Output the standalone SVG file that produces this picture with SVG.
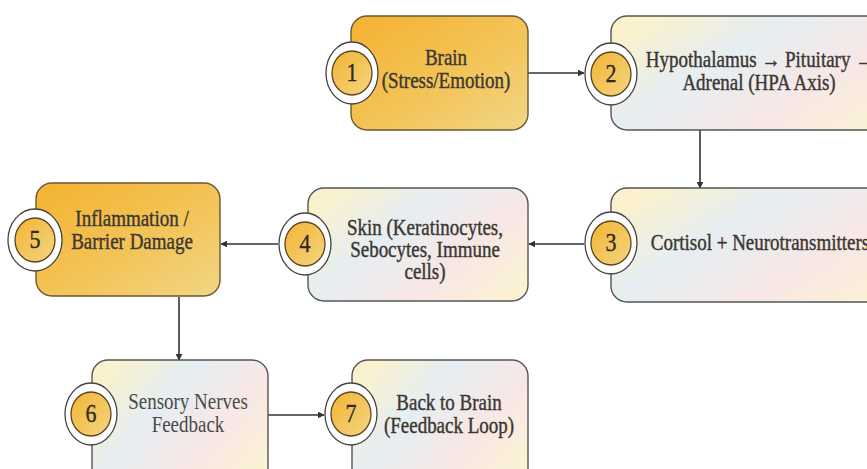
<svg xmlns="http://www.w3.org/2000/svg" width="867" height="469" viewBox="0 0 867 469">
<defs>
<linearGradient id="gOrange" x1="0" y1="0" x2="1" y2="1">
<stop offset="0" stop-color="#F5B230"/>
<stop offset="0.55" stop-color="#F3C458"/>
<stop offset="1" stop-color="#F1D684"/>
</linearGradient>
<linearGradient id="gLight" x1="0" y1="0.2" x2="1" y2="0.8">
<stop offset="0" stop-color="#FBF1CC"/>
<stop offset="0.35" stop-color="#E6EEF2"/>
<stop offset="0.7" stop-color="#F8E7E5"/>
<stop offset="1" stop-color="#FBF2D4"/>
</linearGradient>
<linearGradient id="gGold" x1="0" y1="0" x2="1" y2="1">
<stop offset="0" stop-color="#F2B433"/>
<stop offset="1" stop-color="#F5D582"/>
</linearGradient>
<marker id="ah" viewBox="0 0 10 10" refX="9" refY="5" markerWidth="7" markerHeight="7" orient="auto" markerUnits="userSpaceOnUse">
<path d="M0,0 L10,5 L0,10 Z" fill="#333"/>
</marker>
</defs>
<style>
.bo{fill:url(#gOrange);stroke:#6a5732;stroke-width:1.4}
.bl{fill:url(#gLight);stroke:#555;stroke-width:1.4}
.ring{fill:#fff;stroke:#444;stroke-width:1.3}
.core{fill:url(#gGold);stroke:#5a4520;stroke-width:1.3}
.t{font-family:"Liberation Serif","Times New Roman",serif;font-size:19px;fill:#3b3833;stroke:#3b3833;stroke-width:0.35;text-anchor:middle}
.t6{fill:#4a4a4a;stroke:none}
.n{font-family:"Liberation Serif","Times New Roman",serif;font-size:22px;fill:#2f2a20;stroke:#2f2a20;stroke-width:0.3;text-anchor:middle}
.c{stroke:#333;stroke-width:1.6;fill:none;marker-end:url(#ah)}
</style>
<rect width="867" height="469" fill="#fff"/>

<g id="connectors">
<line class="c" x1="528" y1="73" x2="584" y2="73"/>
<line class="c" x1="700" y1="130" x2="700" y2="188"/>
<line class="c" x1="584" y1="244" x2="529" y2="244"/>
<line class="c" x1="278" y1="244" x2="221" y2="244"/>
<line class="c" x1="179" y1="297" x2="179" y2="360"/>
<line class="c" x1="268" y1="415" x2="324" y2="415"/>
</g>

<g id="node1">
<rect class="bo" x="351" y="16" width="177" height="114" rx="16"/>
<ellipse class="ring" cx="352" cy="73" rx="26" ry="31"/>
<ellipse class="core" cx="352" cy="73" rx="20" ry="22"/>
<text class="n" transform="translate(352,81) scale(1,1.15)">1</text>
<text class="t" transform="translate(446,65) scale(1,1.17)">Brain</text>
<text class="t" transform="translate(446,88) scale(1,1.17)">(Stress/Emotion)</text>
</g>

<g id="node2">
<rect class="bl" x="611" y="16" width="300" height="114" rx="16"/>
<ellipse class="ring" cx="611" cy="74" rx="26" ry="31"/>
<ellipse class="core" cx="611" cy="74" rx="20" ry="22"/>
<text class="n" transform="translate(611,82) scale(1,1.15)">2</text>
<text class="t" transform="translate(760,67) scale(1,1.17)">Hypothalamus → Pituitary →</text>
<text class="t" transform="translate(759,90) scale(1,1.17)">Adrenal (HPA Axis)</text>
</g>

<g id="node3">
<rect class="bl" x="611" y="188" width="300" height="114" rx="16"/>
<ellipse class="ring" cx="611" cy="243" rx="26" ry="31"/>
<ellipse class="core" cx="611" cy="243" rx="20" ry="22"/>
<text class="n" transform="translate(611,251) scale(1,1.15)">3</text>
<text class="t" transform="translate(760,250) scale(1,1.17)">Cortisol + Neurotransmitters</text>
</g>

<g id="node4">
<rect class="bl" x="308" y="188" width="220" height="113" rx="16"/>
<ellipse class="ring" cx="305" cy="244" rx="26" ry="31"/>
<ellipse class="core" cx="305" cy="244" rx="20" ry="22"/>
<text class="n" transform="translate(305,252) scale(1,1.15)">4</text>
<text class="t" transform="translate(425,235) scale(1,1.17)">Skin (Keratinocytes,</text>
<text class="t" transform="translate(425,257) scale(1,1.17)">Sebocytes, Immune</text>
<text class="t" transform="translate(425,279) scale(1,1.17)">cells)</text>
</g>

<g id="node5">
<rect class="bo" x="36" y="183" width="184" height="113" rx="16"/>
<ellipse class="ring" cx="35" cy="240" rx="27" ry="31"/>
<ellipse class="core" cx="35" cy="240" rx="20" ry="22"/>
<text class="n" transform="translate(35,248) scale(1,1.15)">5</text>
<text class="t" transform="translate(132,226) scale(1,1.17)">Inflammation /</text>
<text class="t" transform="translate(132,249) scale(1,1.17)">Barrier Damage</text>
</g>

<g id="node6">
<rect class="bl" x="92" y="360" width="176" height="125" rx="16"/>
<ellipse class="ring" cx="91" cy="414" rx="26" ry="31"/>
<ellipse class="core" cx="91" cy="414" rx="20" ry="22"/>
<text class="n" transform="translate(91,422) scale(1,1.15)">6</text>
<text class="t t6" transform="translate(188,409) scale(1,1.17)">Sensory Nerves</text>
<text class="t t6" transform="translate(188,432) scale(1,1.17)">Feedback</text>
</g>

<g id="node7">
<rect class="bl" x="352" y="360" width="176" height="125" rx="16"/>
<ellipse class="ring" cx="351" cy="414" rx="26" ry="31"/>
<ellipse class="core" cx="351" cy="414" rx="20" ry="22"/>
<text class="n" transform="translate(351,422) scale(1,1.15)">7</text>
<text class="t" transform="translate(449,410) scale(1,1.17)">Back to Brain</text>
<text class="t" transform="translate(449,433) scale(1,1.17)">(Feedback Loop)</text>
</g>
</svg>
